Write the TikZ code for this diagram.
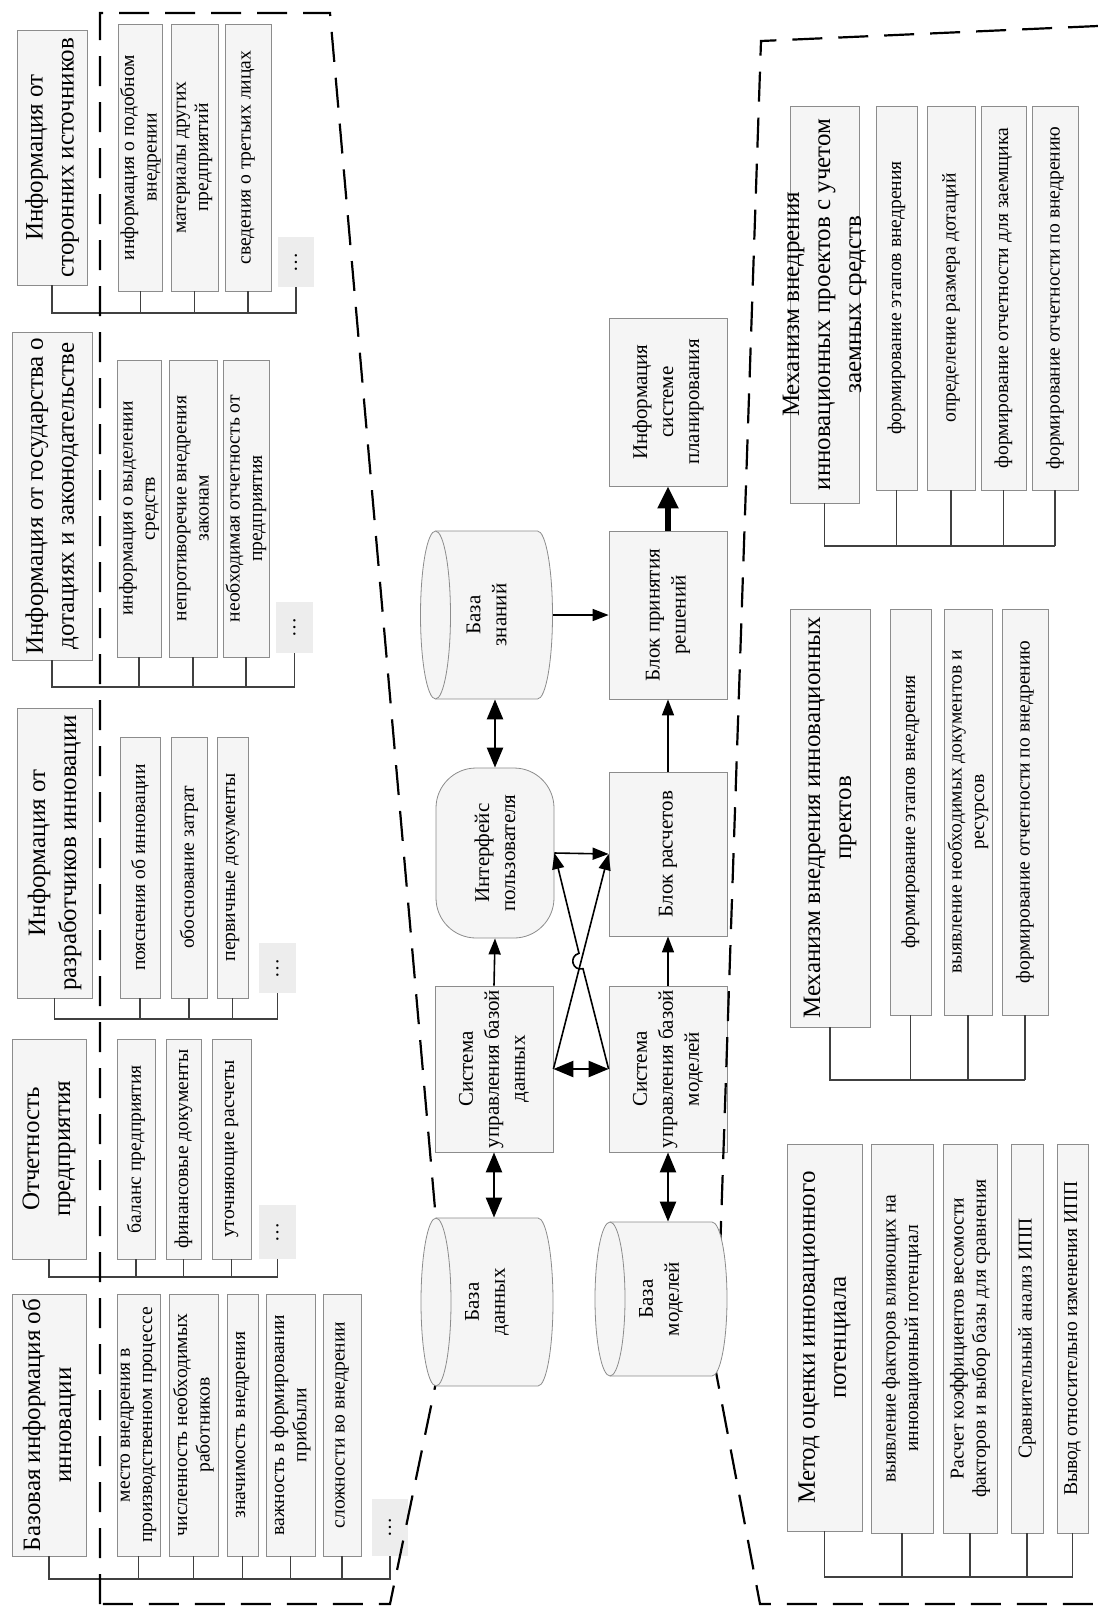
\documentclass[tikz,border=0pt]{standalone}
\usepackage{fontspec}
\setmainfont{Liberation Serif}
\usetikzlibrary{arrows.meta}

\begin{document}
\begin{tikzpicture}[x=0.5pt, y=-0.5pt, >={Triangle[length=8pt,width=6pt]},
    box/.style={draw=black!45, fill=black!4, rotate=90, align=center, inner sep=1pt},
    head/.style={box, font=\fontsize{12.5}{15.5}\selectfont},
    sub/.style={box, font=\fontsize{9.8}{11.2}\selectfont},
    dots/.style={fill=black!7, rotate=90, inner sep=0pt, font=\fontsize{10}{12}\selectfont},
    cbox/.style={box, minimum width=84pt, minimum height=59pt, font=\fontsize{10.5}{13}\selectfont},
    store/.style={rotate=90, align=center, inner sep=0pt, minimum height=66pt, font=\fontsize{10.5}{13}\selectfont},
    drum/.style={draw=black!45, fill=black!4},
    comb/.style={draw=black!75, line width=0.8pt},
    frame/.style={line width=1.1pt, dash pattern=on 15pt off 8pt},
    arr/.style={->, line width=0.8pt},
    darr/.style={{Triangle[length=10pt,width=8pt]}-{Triangle[length=10pt,width=8pt]}, line width=1.2pt},
    fat/.style={-{Triangle[length=11pt,width=10pt]}, line width=2.6pt}]

    \useasboundingbox (0,0) rectangle (1098,1607);

    % Base information about the innovation
    \node[head, minimum width=131pt, minimum height=37pt] (BaseHead) at (49,1425) {Базовая информация об\\инновации};
    \foreach \xc/\bh/\txt [count=\i] in {138.5/21.5/{место внедрения в\\производственном процессе}, 193.5/24.5/{численность необходимых\\работников}, 242.5/15.5/{значимость внедрения}, 290.5/24.5/{важность в формировании\\прибыли}, 342/19/{сложности во внедрении}}
    {
        \node[sub, minimum width=131pt, minimum height=\bh pt] (Base-\i) at (\xc,1425) {\txt};
        \draw[comb] (Base-\i.west) -- (Base-\i.west |- 0,1579);
    }
    \node[dots, minimum width=28.5pt, minimum height=18pt] (BaseDots) at (390,1527.5) {\dots};
    \draw[comb] (BaseHead.west) -- (BaseHead.west |- 0,1579) -- (BaseDots.west |- 0,1579) -- (BaseDots.west);

    % Enterprise reporting
    \node[head, minimum width=110pt, minimum height=37pt] (RepHead) at (49,1149) {Отчетность\\предприятия};
    \foreach \xc/\bh/\txt [count=\i] in {136/19/{баланс предприятия}, 183.5/17.5/{финансовые документы}, 231.5/19.5/{уточняющие расчеты}}
    {
        \node[sub, minimum width=110pt, minimum height=\bh pt] (Rep-\i) at (\xc,1149) {\txt};
        \draw[comb] (Rep-\i.west) -- (Rep-\i.west |- 0,1277);
    }
    \node[dots, minimum width=27pt, minimum height=18.5pt] (RepDots) at (277.5,1232) {\dots};
    \draw[comb] (RepHead.west) -- (RepHead.west |- 0,1277) -- (RepDots.west |- 0,1277) -- (RepDots.west);

    % Information from the developers
    \node[head, minimum width=145pt, minimum height=37.5pt] (DevHead) at (54.5,853) {Информация от\\разработчиков инновации};
    \foreach \xc/\bh/\txt [count=\i] in {140/20/{пояснения об инновации}, 189/18/{обоснование затрат}, 232.5/15.5/{первичные документы}}
    {
        \node[sub, minimum width=130.5pt, minimum height=\bh pt] (Dev-\i) at (\xc,867.5) {\txt};
        \draw[comb] (Dev-\i.west) -- (Dev-\i.west |- 0,1019);
    }
    \node[dots, minimum width=25pt, minimum height=18.5pt] (DevDots) at (277.5,968) {\dots};
    \draw[comb] (DevHead.west) -- (DevHead.west |- 0,1019) -- (DevDots.west |- 0,1019) -- (DevDots.west);

    % Information from the state
    \node[head, minimum width=164pt, minimum height=40pt] (StateHead) at (52,496) {Информация от государства о\\дотациях и законодательстве};
    \foreach \xc/\bh/\txt [count=\i] in {139/20/{информация о выделении\\средств}, 193/24/{непротиворечие внедрения\\законам}, 246/23/{необходимая отчетность от\\предприятия}}
    {
        \node[sub, minimum width=148.5pt, minimum height=\bh pt] (State-\i) at (\xc,508.5) {\txt};
        \draw[comb] (State-\i.west) -- (State-\i.west |- 0,687);
    }
    \node[dots, minimum width=25.5pt, minimum height=18.5pt] (StateDots) at (294.5,627.5) {\dots};
    \draw[comb] (StateHead.west) -- (StateHead.west |- 0,687) -- (StateDots.west |- 0,687) -- (StateDots.west);

    % Information from outside sources
    \node[head, minimum width=127.5pt, minimum height=35pt] (ExtHead) at (52,157.5) {Информация от\\сторонних источников};
    \foreach \xc/\bh/\txt [count=\i] in {140.5/20.5/{информация о подобном\\внедрении}, 194.5/23.5/{материалы других\\предприятий}, 248/23/{сведения о третьих лицах}}
    {
        \node[sub, minimum width=133.5pt, minimum height=\bh pt] (Ext-\i) at (\xc,157.5) {\txt};
        \draw[comb] (Ext-\i.west) -- (Ext-\i.west |- 0,313);
    }
    \node[dots, minimum width=25pt, minimum height=18pt] (ExtDots) at (296,262) {\dots};
    \draw[comb] (ExtHead.west) -- (ExtHead.west |- 0,313) -- (ExtDots.west |- 0,313) -- (ExtDots.west);

    % Mechanism with borrowed funds
    \node[head, minimum width=198.5pt, minimum height=34.5pt, inner ysep=-6pt] (LoanHead) at (824.5,304.5) {Механизм внедрения\\инновационных проектов с учетом\\заемных средств};
    \foreach \xc/\bh/\txt [count=\i] in {896.5/20.5/{формирование этапов внедрения}, 951/24/{определение размера дотаций}, 1003.5/22.5/{формирование отчетности для заемщика}, 1055/23/{формирование отчетности по внедрению}}
    {
        \node[sub, minimum width=192pt, minimum height=\bh pt] (Loan-\i) at (\xc,298) {\txt};
        \draw[comb] (Loan-\i.west) -- (Loan-\i.west |- 0,546);
    }
    \draw[comb] (LoanHead.west) -- (LoanHead.west |- 0,546) -- (Loan-4.west |- 0,546);

    % Mechanism of implementation
    \node[head, minimum width=209pt, minimum height=40pt] (ImplHead) at (830,818) {Механизм внедрения инновационных\\пректов};
    \foreach \xc/\bh/\txt [count=\i] in {910.5/20.5/{формирование этапов внедрения}, 968/24/{выявление необходимых документов и\\ресурсов}, 1025/23/{формирование отчетности по внедрению}}
    {
        \node[sub, minimum width=203pt, minimum height=\bh pt] (Impl-\i) at (\xc,812) {\txt};
        \draw[comb] (Impl-\i.west) -- (Impl-\i.west |- 0,1080);
    }
    \draw[comb] (ImplHead.west) -- (ImplHead.west |- 0,1080) -- (Impl-3.west |- 0,1080);

    % Evaluation method
    \node[head, minimum width=193.5pt, minimum height=37.5pt] (MethHead) at (824.5,1337.5) {Метод оценки инновационного\\потенциала};
    \foreach \xc/\bh/\txt [count=\i] in {902/31/{выявление факторов влияющих на\\инновационный потенциал}, 970/27/{Расчет коэффициентов весомости\\факторов и выбор базы для сравнения}, 1027/16/{Сравнительный анализ ИПП}, 1072.5/15.5/{Вывод относительно изменения ИПП}}
    {
        \node[sub, minimum width=194.5pt, minimum height=\bh pt] (Meth-\i) at (\xc,1338.5) {\txt};
        \draw[comb] (Meth-\i.west) -- (Meth-\i.west |- 0,1577);
    }
    \draw[comb] (MethHead.west) -- (MethHead.west |- 0,1577) -- (Meth-4.west |- 0,1577);

    % Core blocks
    \node[cbox] (Plan) at (668,402) {Информация\\системе\\планирования};
    \node[cbox] (Decide) at (668,615) {Блок принятия\\решений};
    \node[cbox, minimum width=85pt, rounded corners=20pt] (UI) at (495,853) {Интерфейс\\пользователя};
    \node[cbox, minimum width=82pt] (Calc) at (668,854) {Блок расчетов};
    \node[cbox, minimum width=83pt] (DBMS) at (494,1069) {Система\\управления базой\\данных};
    \node[cbox, minimum width=83pt] (MBMS) at (668,1069) {Система\\управления базой\\моделей};

    % Dashed frames
    \draw[frame] (100,1604) -- (100,13) -- (330,13) -- (446,1334) -- (390,1604) -- cycle;
    \draw[frame] (1098,26) -- (761,41) -- (716,1372) -- (760,1604) -- (1098,1604);

    % Storages (drums lying on their side)
    \foreach \nm/\cx/\cy/\dd/\txt in {Know/486.5/615/168/{База\\знаний}, DB/487/1302/168/{База\\данных}, MB/661/1299/154/{База\\моделей}}
    {
        \filldraw[drum] ({\cx-51},{\cy-\dd/2}) -- ({\cx+51},{\cy-\dd/2}) arc[start angle=-90, end angle=90, x radius=15, y radius=\dd/2] -- ({\cx-51},{\cy+\dd/2}) arc[start angle=90, end angle=270, x radius=15, y radius=\dd/2] -- cycle;
        \draw[drum, fill=none] ({\cx-51},{\cy-\dd/2}) arc[start angle=-90, end angle=90, x radius=15, y radius=\dd/2];
        \node[store, minimum width=\dd*0.5pt] (\nm) at (\cx,\cy) {\txt};
    }

    % Connections
    \draw[darr] (UI.east) -- (UI.east |- Know.west);
    \draw[arr] (Know) -- (Decide);
    \draw[fat] (Decide.east) -- (Plan.west);
    \draw[arr] (Calc.east) -- (Decide.west);
    \draw[arr] (DBMS.east) -- (UI.west);
    \draw[arr] (MBMS.east) -- (Calc.west);
    \draw[darr] (DBMS.south) -- (MBMS.north);
    \draw[arr] (UI.south) -- (Calc.north);
    \draw[arr] (DBMS.south) -- (Calc.north);
    \coordinate (Hop-1) at (583,968.7);
    \coordinate (Hop-2) at (579,953.3);
    \draw[arr] (MBMS.north) -- (Hop-1) .. controls (572.4,971.5) and (568.4,956.1) .. (Hop-2) -- (UI.south);
    \draw[darr] (DBMS.west) -- (DBMS.west |- DB.east);
    \draw[darr] (MBMS.west) -- (MBMS.west |- MB.east);

\end{tikzpicture}
\end{document}
